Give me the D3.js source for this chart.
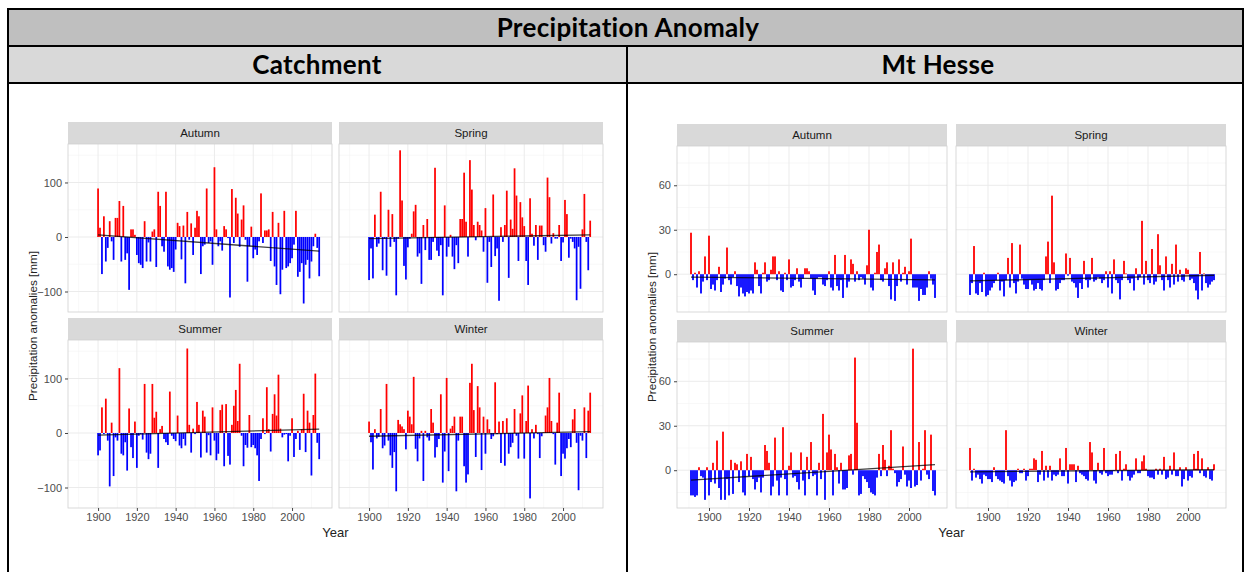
<!DOCTYPE html>
<html>
<head>
<meta charset="utf-8">
<script src="https://cdn.jsdelivr.net/npm/d3@7"></script>
<style>
body { margin: 0; background: #fff; }
text { font-family: "Liberation Sans", Arial, sans-serif; }
</style>
</head>
<body>
<div id="chart"></div>
<script>
// facet names
var seasons = ["Autumn", "Spring", "Summer", "Winter"];

// Catchment anomalies [mm], one value per year starting 1900
var catchStart = 1900;
var catchAutumn = [89,17,-68,38,-45,-20,29,-8,-42,35, 35,66,-45,57,-42,-30,-97,14,14,4,
  -33,-48,-51,-57,29,-45,-10,-45,10,14, -55,83,57,-17,-27,83,-54,-60,-57,-64,
  -23,26,20,-41,21,-85,46,-5,25,-33, 17,48,38,-68,-17,-14,89,-11,-8,-51,
  128,14,-17,-8,-25,20,14,-2,-111,88, -11,72,43,-18,32,58,-5,-82,-17,19,
  -39,-23,-33,-8,80,-11,12,12,14,-44, 46,-54,-88,26,-105,-60,48,-57,-54,-48,
  -39,-14,48,-73,-64,-48,-122,-51,-42,-76, -45,-17,6,-20,-72];
var catchSpring = [-79,-21,-76,41,-18,-12,83,-61,-3,-71, 50,-18,42,-9,-107,-3,159,67,-53,-78,
  -19,-3,6,47,59,-36,-30,-86,22,-24, 33,-42,-42,-9,127,-25,-35,-15,-107,58,
  -36,-18,4,-36,-59,-15,-48,33,33,118, 28,-36,141,87,22,-6,28,22,12,-27,
  53,-84,-9,-55,78,-35,-21,-117,18,-9, 22,85,-75,32,15,126,76,-44,64,36,
  20,-44,-88,71,6,-16,22,-42,21,21, -15,-27,109,73,-12,7,-3,-3,22,-44,
  -10,68,42,-38,-3,-9,-21,-116,-18,-95, 14,79,-9,-61,30];
var catchSummer = [-41,-32,47,-2,63,-14,-98,19,-79,-8, -14,119,-38,-41,-17,-69,45,-26,-46,21,
  -64,-5,-2,-12,90,-36,-48,-38,90,28, 39,-64,7,13,-11,-17,-22,76,-5,-11,
  -15,32,-23,-28,-11,-23,155,15,-36,8, -2,57,15,-45,41,30,-36,-4,-41,47,
  -14,-50,-38,42,52,-61,53,-42,-58,15, 50,79,22,127,-5,-61,-22,-27,33,-26,
  -22,-28,-41,-88,-11,27,-2,84,7,-34, 35,71,32,107,8,-8,-3,-2,-52,-5,
  27,-44,-11,4,-31,7,72,-35,41,19, -78,33,109,-18,-48];
var catchWinter = [21,-17,-67,7,-10,-7,44,-28,-23,90, -14,-41,-64,-35,-107,24,16,12,7,-30,
  41,30,16,103,-29,-52,-10,4,-88,4, -8,-14,44,19,-45,-26,-11,71,-91,-34,
  101,-70,8,13,30,-107,-14,30,30,-61, -91,-76,92,127,42,-44,86,47,-68,30,
  -38,25,7,-11,-6,93,-2,21,-55,22, -60,27,-38,-26,-18,44,-5,-47,36,69,
  -47,22,87,-120,7,-10,15,-2,-46,-6, 1,32,47,101,22,-2,-58,19,74,-79,
  -38,-47,-28,-11,-26,25,44,-18,-105,-5, -14,47,-46,41,74];

// Mt Hesse anomalies [mm], one value per year starting 1891
var hesseStart = 1891;
var hesseAutumn = [28,-4,1,-9,2,-13,-5,12,-4,26, -10,-7,-11,-4,5,-12,-7,-3,18,-4,
  -7,-2,2,-8,-15,-9,-13,-15,-12,-13, -11,-13,8,3,-8,-13,1,8,-5,-4,
  3,12,12,-4,2,-11,-12,1,-4,10, -9,-8,-4,4,-5,-9,-3,4,4,2,
  -3,-11,-14,-3,-2,-2,-7,-8,-4,2, -9,-11,13,-8,-11,-4,-16,13,-9,-5,
  10,7,-5,2,-4,-2,-3,-7,6,30, -9,-11,1,15,20,-4,-5,4,8,-8,
  -17,8,-18,-8,10,-5,1,5,-7,2, 24,-9,-9,-9,-18,-10,-14,-14,-9,2,
  -3,-7,-16];
var hesseSpring = [-14,-6,19,-13,-14,-6,-12,1,-15,-14, -11,-9,-6,-4,1,-11,-5,-15,-4,11,
  -9,21,-6,-13,-5,20,-3,-7,-10,-10, -4,-7,-11,-10,-6,-10,-11,-4,12,22,
  -6,53,8,-11,-10,-6,-4,-4,14,-1, 11,-5,-6,-9,-16,-6,-10,9,-4,-9,
  -4,11,-5,-4,-2,-3,-6,-4,2,-9, 2,-13,10,-4,-6,-17,-4,9,0.5,-4,
  -6,-3,-11,4,-4,-2,36,-7,9,-4, -6,17,-7,-5,27,6,-4,-11,12,-4,
  -9,7,-7,20,-5,3,-4,-5,4,3, -4,-3,-6,-11,-17,15,-11,0.5,-6,-9,
  -7,-5,-4];
var hesseSummer = [-17,-17,-18,-17,2,-4,-5,-20,2,-17, -8,5,-9,20,-12,-20,26,-20,-6,-17,
  7,-16,5,4,-8,6,-15,-17,11,-4, 9,-6,-13,-8,-5,-15,-5,17,13,5,
  -17,-11,22,-7,-17,-5,29,-6,-17,3, 12,-5,-4,-8,-13,12,-7,-17,9,-6,
  19,-4,-3,-17,5,-6,38,-20,12,24, 14,-17,11,2,-9,5,-13,-13,-12,10,
  11,-3,76,32,-17,-16,-4,-6,-8,-12, -15,-16,-17,-5,11,-4,17,7,-4,3,
  27,1,-2,-11,-8,-6,16,-3,-11,-7, -12,82,-11,-10,19,-7,1,27,-3,-6,
  24,-14,-17];
var hesseWinter = [15,-7,1,-5,-3,-6,-9,-3,-4,-6, -6,-8,2,-4,-6,-7,-8,-9,27,-4,
  -7,-11,-8,-7,1,-2,-2,1,-7,-4, 1,1,8,7,-8,-3,13,-7,3,-5,
  3,-7,-3,-4,-3,8,-4,-4,15,-9, 4,4,4,-8,3,-2,-3,-4,-6,-7,
  19,12,-7,-9,5,-2,-3,15,-2,-4, -3,-3,-0.5,11,-2,13,-7,1,4,-4,
  -7,-5,-3,8,-2,-2,6,10,1,-4, -5,-5,-6,1,-3,1,-3,9,-6,-5,
  3,-3,12,-4,-4,2,-11,-6,2,-7, -4,-5,11,1,13,-2,8,-4,-5,2,
  -6,-7,4];

// linear trend (value at first and last year), per season
var catchTrendStart = [4, -3, -4, -6];
var catchTrendEnd = [-26, 4, 7, 2.5];
var hesseTrendStart = [-2, -4.5, -6.7, -1.1];
var hesseTrendEnd = [-3.8, -0.7, 3.8, 0.3];

// tick labels
var xTicks = [1900, 1920, 1940, 1960, 1980, 2000];
var catchYTicks = [-100, 0, 100];
var hesseYTicks = [0, 30, 60];

var svgWidth = 1245;
var svgHeight = 572;

var svg = d3.select("#chart")
  .append("svg")
  .attr("width", svgWidth)
  .attr("height", svgHeight);

// ---- table frame ----
svg.append("rect").attr("x", 8).attr("y", 9).attr("width", 1235).attr("height", 37).attr("fill", "#bfbfbf");
svg.append("rect").attr("x", 8).attr("y", 46).attr("width", 1235).attr("height", 37).attr("fill", "#d9d9d9");

var frame = svg.append("g").attr("stroke", "#000").attr("stroke-width", 2).attr("fill", "none");
frame.append("line").attr("x1", 8).attr("x2", 1243).attr("y1", 9).attr("y2", 9);
frame.append("line").attr("x1", 8).attr("x2", 1243).attr("y1", 46).attr("y2", 46);
frame.append("line").attr("x1", 8).attr("x2", 1243).attr("y1", 83).attr("y2", 83);
frame.append("line").attr("x1", 8).attr("x2", 8).attr("y1", 8).attr("y2", 572);
frame.append("line").attr("x1", 1243).attr("x2", 1243).attr("y1", 8).attr("y2", 572);
frame.append("line").attr("x1", 627).attr("x2", 627).attr("y1", 46).attr("y2", 572);

function header(x, y, label) {
  svg.append("text").attr("x", x).attr("y", y).attr("text-anchor", "middle")
    .style("font-family", "Lato, 'Open Sans', sans-serif").style("font-weight", 700)
    .style("font-size", "26px").style("letter-spacing", "0.3px")
    .text(label);
}
header(628, 37, "Precipitation Anomaly");
header(317, 74, "Catchment");
header(938, 74, "Mt Hesse");

// ---- faceted bar chart ----
function drawFacets(opt) {
  var g = svg.append("g");
  var xMinor = d3.range(xTicks[0] - 10, xTicks[xTicks.length - 1] + 20, 20);
  var step = opt.yTicks[1] - opt.yTicks[0];
  var yMinor = d3.range(opt.yTicks[0] - step / 2, opt.yTicks[opt.yTicks.length - 1] + step, step);

  opt.series.forEach(function(vals, i) {
    var col = i % 2, row = Math.floor(i / 2);
    var px = opt.colX[col];
    var sy = opt.rowY[row];
    var py = sy + opt.stripH;
    var years = d3.range(opt.start, opt.start + vals.length);

    var x = d3.scaleLinear().domain(opt.xDomain).range([px, px + opt.panelW]);
    var y = d3.scaleLinear().domain(opt.yDomain).range([py + opt.panelH, py]);

    var p = g.append("g");
    // strip
    p.append("rect").attr("x", px).attr("y", sy).attr("width", opt.panelW).attr("height", opt.stripH)
      .attr("fill", "#d9d9d9");
    p.append("text").attr("x", px + opt.panelW / 2).attr("y", sy + opt.stripH / 2 + 4)
      .attr("text-anchor", "middle").style("font-size", "11.5px").attr("fill", "#1a1a1a")
      .text(seasons[i]);

    // grid
    var grid = p.append("g");
    grid.selectAll(".xmin").data(xMinor.filter(function(d) { return d > opt.xDomain[0] && d < opt.xDomain[1]; }))
      .enter().append("line")
      .attr("x1", d => x(d)).attr("x2", d => x(d)).attr("y1", py).attr("y2", py + opt.panelH)
      .attr("stroke", "#f4f4f4").attr("stroke-width", 0.6);
    grid.selectAll(".ymin").data(yMinor.filter(function(d) { return d > opt.yDomain[0] && d < opt.yDomain[1]; }))
      .enter().append("line")
      .attr("x1", px).attr("x2", px + opt.panelW).attr("y1", d => y(d)).attr("y2", d => y(d))
      .attr("stroke", "#f4f4f4").attr("stroke-width", 0.6);
    grid.selectAll(".xmaj").data(xTicks).enter().append("line")
      .attr("x1", d => x(d)).attr("x2", d => x(d)).attr("y1", py).attr("y2", py + opt.panelH)
      .attr("stroke", "#ebebeb").attr("stroke-width", 1);
    grid.selectAll(".ymaj").data(opt.yTicks).enter().append("line")
      .attr("x1", px).attr("x2", px + opt.panelW).attr("y1", d => y(d)).attr("y2", d => y(d))
      .attr("stroke", "#ebebeb").attr("stroke-width", 1);

    // bars
    p.selectAll(".bar").data(vals).enter().append("rect")
      .attr("x", (d, j) => x(years[j] - 0.45))
      .attr("width", (d, j) => x(years[j] + 0.45) - x(years[j] - 0.45))
      .attr("y", d => y(Math.max(0, d)))
      .attr("height", d => Math.abs(y(d) - y(0)))
      .attr("fill", d => d >= 0 ? "#ff0000" : "#0000ff");

    // trend
    p.append("line")
      .attr("x1", x(years[0])).attr("x2", x(years[years.length - 1]))
      .attr("y1", y(opt.trendStart[i])).attr("y2", y(opt.trendEnd[i]))
      .attr("stroke", "#000").attr("stroke-opacity", 0.75).attr("stroke-width", 1.3);

    // border
    p.append("rect").attr("x", px).attr("y", py).attr("width", opt.panelW).attr("height", opt.panelH)
      .attr("fill", "none").attr("stroke", "#d0d0d0").attr("stroke-width", 0.8);

    if (col === 0) {
      var ya = p.append("g").attr("transform", "translate(" + px + ",0)")
        .call(d3.axisLeft(y).tickValues(opt.yTicks).tickSize(3).tickPadding(3));
      ya.select(".domain").remove();
      ya.selectAll("line").attr("stroke", "#444");
      ya.selectAll("text").attr("fill", "#4d4d4d").style("font-size", "11px")
        .style("font-family", "'Liberation Sans', Arial, sans-serif");
    }
    if (row === 1) {
      var xa = p.append("g").attr("transform", "translate(0," + (py + opt.panelH) + ")")
        .call(d3.axisBottom(x).tickValues(xTicks).tickFormat(d3.format("d")).tickSize(3).tickPadding(2));
      xa.select(".domain").remove();
      xa.selectAll("line").attr("stroke", "#444");
      xa.selectAll("text").attr("fill", "#4d4d4d").style("font-size", "11px")
        .style("font-family", "'Liberation Sans', Arial, sans-serif");
    }
  });

  var left = opt.colX[0], right = opt.colX[1] + opt.panelW;
  var bottom = opt.rowY[1] + opt.stripH + opt.panelH;
  g.append("text").attr("x", (left + right) / 2).attr("y", bottom + 29)
    .attr("text-anchor", "middle").style("font-size", "13px").attr("fill", "#222").text("Year");
  g.append("text")
    .attr("transform", "translate(" + opt.yTitleX + "," + ((opt.rowY[0] + opt.stripH + bottom) / 2) + ") rotate(-90)")
    .attr("text-anchor", "middle").style("font-size", "11.7px").attr("fill", "#222")
    .text("Precipitation anomalies [mm]");
}

drawFacets({
  series: [catchAutumn, catchSpring, catchSummer, catchWinter],
  start: catchStart,
  trendStart: catchTrendStart,
  trendEnd: catchTrendEnd,
  yTicks: catchYTicks,
  colX: [68, 339],
  rowY: [122, 318],
  stripH: 22,
  panelW: 264,
  panelH: 168,
  xDomain: [1884.5, 2020.6],
  yDomain: [-137.6, 170.6],
  yTitleX: 37
});

drawFacets({
  series: [hesseAutumn, hesseSpring, hesseSummer, hesseWinter],
  start: hesseStart,
  trendStart: hesseTrendStart,
  trendEnd: hesseTrendEnd,
  yTicks: hesseYTicks,
  colX: [677, 956],
  rowY: [124, 320],
  stripH: 22,
  panelW: 270,
  panelH: 166,
  xDomain: [1884, 2019],
  yDomain: [-25.5, 86.5],
  yTitleX: 656
});
</script>
</body>
</html>
